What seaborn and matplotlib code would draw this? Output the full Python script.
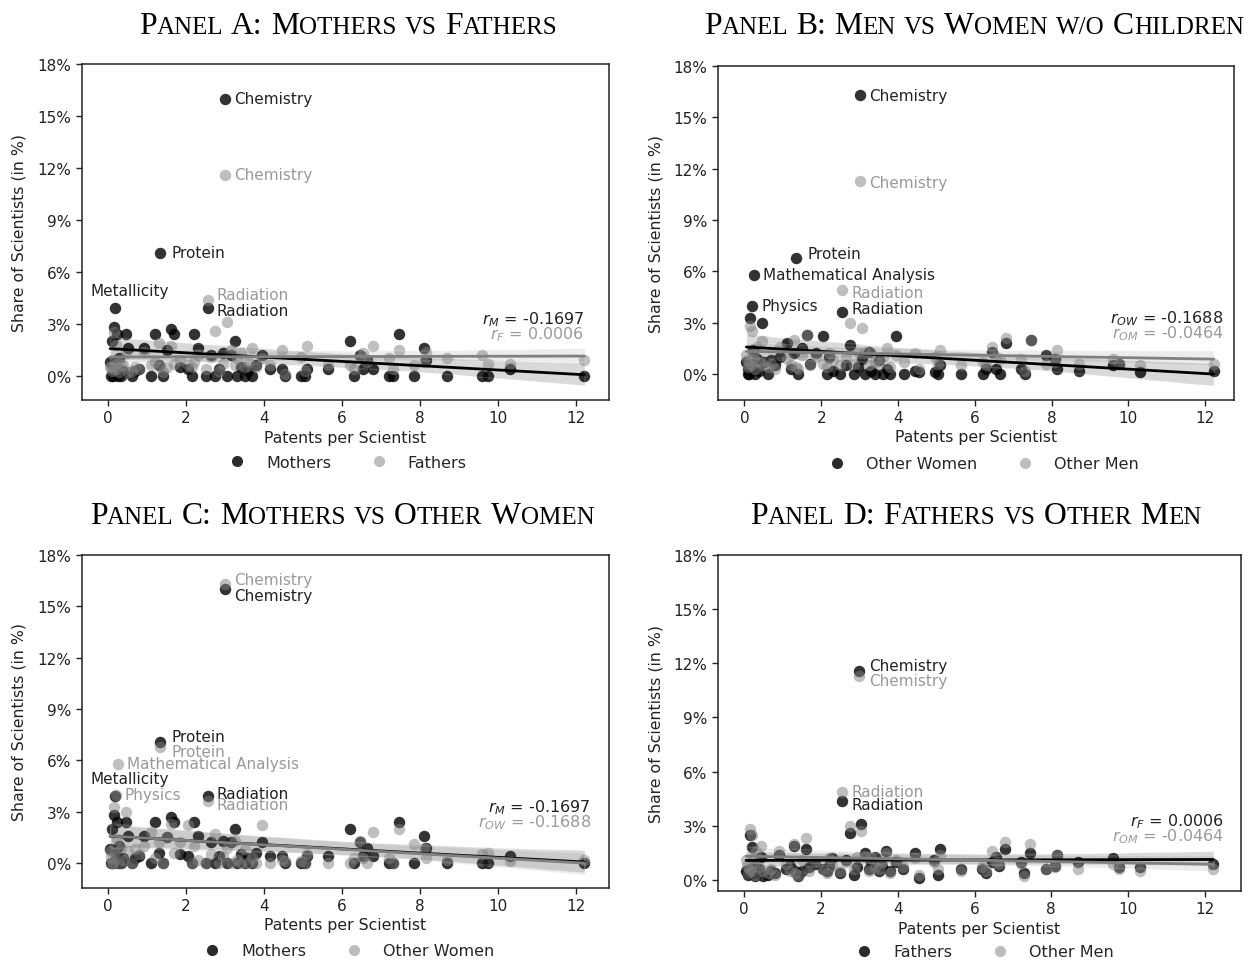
import matplotlib
matplotlib.use("Agg")
import matplotlib.pyplot as plt
from matplotlib.lines import Line2D
from matplotlib.offsetbox import TextArea, HPacker, AnchoredOffsetbox
from matplotlib.ticker import FuncFormatter
import seaborn as sns
import pandas as pd

# --- data: one row per research field ---
fields = ["", "", "", "", "", "Metallicity", "Physics", "", "Mathematical Analysis", "", "", "", "", "",
          "", "", "", "",
          "", "", "", "Protein", "", "", "", "", "",
          "", "", "", "", "", "Radiation", "", "", "", "",
          "Chemistry", "", "", "", "", "", "", "", "", "", "",
          "", "", "", "", "", "",
          "", "", "", "", "", "", "", "", "", "",
          "", "", "", "", "", "", "", ""]
patents = [0.05, 0.08, 0.10, 0.12, 0.15, 0.17, 0.20, 0.22, 0.25, 0.28, 0.32, 0.38, 0.45, 0.50,
           0.62, 0.70, 0.80, 0.92,
           1.10, 1.20, 1.30, 1.33, 1.40, 1.50, 1.62, 1.70, 1.85,
           2.05, 2.15, 2.20, 2.30, 2.50, 2.55, 2.65, 2.75, 2.85, 2.95,
           3.00, 3.05, 3.15, 3.25, 3.30, 3.40, 3.50, 3.60, 3.70, 3.80, 3.95,
           4.15, 4.45, 4.55, 4.95, 5.05, 5.10,
           5.65, 6.20, 6.30, 6.45, 6.55, 6.65, 6.80, 7.20, 7.30, 7.45,
           7.85, 8.10, 8.15, 8.70, 9.60, 9.75, 10.30, 12.22]
mothers = [0.8, 0.0, 2.0, 0.0, 2.8, 3.9, 0.5, 2.4, 0.0, 1.0, 0.0, 0.3, 2.4, 1.6,
           0.0, 0.3, 0.4, 1.6,
           0.0, 2.4, 0.6, 7.1, 0.0, 1.5, 2.7, 2.4, 0.5,
           0.4, 0.0, 2.4, 1.6, 0.0, 3.9, 1.2, 0.0, 0.4, 1.3,
           16.0, 0.0, 1.2, 2.0, 0.0, 0.5, 0.0, 0.3, 0.0, 0.6, 1.2,
           0.4, 0.4, 0.0, 0.0, 0.0, 0.4,
           0.4, 2.0, 0.0, 1.2, 0.4, 0.9, 0.4, 0.0, 0.0, 2.4,
           0.0, 1.6, 0.9, 0.0, 0.0, 0.0, 0.4, 0.0]
fathers = [0.5, 0.5, 0.3, 0.4, 2.5, 0.6, 1.8, 0.4, 0.8, 0.2, 0.6, 0.6, 1.3, 0.2,
           0.3, 0.5, 0.4, 1.4,
           0.6, 0.8, 1.9, 0.5, 0.2, 0.5, 1.7, 0.7, 0.9,
           0.6, 0.5, 0.8, 1.2, 0.4, 4.4, 1.1, 2.6, 0.3, 0.7,
           11.6, 3.1, 1.5, 0.6, 1.0, 1.3, 0.5, 0.8, 1.6, 0.5, 1.0,
           0.6, 1.5, 0.1, 1.1, 0.3, 1.7,
           0.6, 0.6, 0.4, 1.0, 1.3, 0.8, 1.7, 1.0, 0.4, 1.5,
           0.6, 0.8, 1.4, 1.0, 1.2, 0.7, 0.7, 0.9]
other_women = [0.7, 0.3, 0.0, 0.0, 3.3, 0.6, 4.0, 1.4, 5.8, 0.0, 0.9, 0.2, 3.0, 0.7,
               0.0, 0.8, 0.5, 1.0,
               1.8, 0.3, 1.2, 6.8, 0.0, 1.5, 2.3, 0.6, 1.2,
               2.2, 0.0, 1.0, 0.2, 0.0, 3.6, 0.5, 1.7, 0.0, 0.4,
               16.3, 0.9, 0.0, 1.3, 0.2, 0.0, 0.8, 0.0, 0.3, 0.0, 2.2,
               0.0, 0.2, 0.1, 0.1, 0.0, 0.5,
               0.0, 0.0, 0.3, 1.3, 0.3, 0.0, 1.8, 0.3, 0.0, 2.0,
               1.1, 0.9, 0.3, 0.2, 0.5, 0.6, 0.1, 0.2]
other_men = [1.1, 0.8, 0.4, 0.6, 2.8, 0.5, 2.5, 1.2, 0.9, 0.3, 1.6, 0.7, 1.9, 0.5,
             0.4, 0.6, 0.3, 1.6,
             0.9, 0.5, 2.0, 0.4, 0.3, 1.1, 2.3, 0.5, 1.0,
             0.6, 0.4, 1.2, 0.8, 0.5, 4.9, 1.0, 3.0, 0.6, 1.3,
             11.3, 2.7, 1.3, 0.5, 1.2, 0.7, 0.6, 1.0, 1.5, 0.4, 1.1,
             0.7, 1.2, 0.3, 1.0, 0.6, 1.4,
             0.5, 0.7, 0.5, 1.6, 1.0, 0.9, 2.1, 0.9, 0.2, 2.0,
             0.6, 0.7, 1.4, 0.6, 0.9, 0.6, 0.5, 0.6]

corr_text = {"Mothers": ("M", "-0.1697"), "Fathers": ("F", "0.0006"),
             "Other Women": ("OW", "-0.1688"), "Other Men": ("OM", "-0.0464")}

df = pd.DataFrame({"field": fields, "patents": patents, "Mothers": mothers,
                   "Fathers": fathers, "Other Women": other_women, "Other Men": other_men})

# --- style ---
sns.set_style("ticks")
plt.rcParams["font.family"] = ["DejaVu Sans"]

W, H = 1248, 962
DARK, LIGHT = "black", "grey"
DARK_TXT, LIGHT_TXT = "#222222", "#9a9a9a"

# panel layout in pixels: axes box (left, right, top, bottom), limits, legend/title centres
panels = [
    dict(title="Panel A: Mothers vs Fathers", groups=("Mothers", "Fathers"),
         box=(82, 609, 65, 401), xlim=(-0.67, 12.85), ylim=(-1.40, 18),
         title_xy=(348, 27), legend_xy=(344, 463), r_pos=(0.953, 0.241, 0.196),
         offsets={("Mothers", "Metallicity"): (11, 13, "center"),
                  ("Mothers", "Protein"): (8.6, 0, "left"),
                  ("Mothers", "Radiation"): (6.5, -1.5, "left"),
                  ("Fathers", "Radiation"): (6.5, 3.5, "left")}),
    dict(title="Panel B: Men vs Women w/o Children", groups=("Other Women", "Other Men"),
         box=(718, 1234, 67, 401), xlim=(-0.69, 12.75), ylim=(-1.52, 18),
         title_xy=(974, 27), legend_xy=(980, 465), r_pos=(0.98, 0.248, 0.203),
         offsets={("Other Women", "Protein"): (8.6, 3, "left"),
                  ("Other Men", "Chemistry"): (6.5, -1, "left"),
                  ("Other Men", "Radiation"): (6.5, -1.5, "left"),
                  ("Other Women", "Radiation"): (6.5, 3, "left")}),
    dict(title="Panel C: Mothers vs Other Women", groups=("Mothers", "Other Women"),
         box=(82, 609, 556, 889), xlim=(-0.67, 12.85), ylim=(-1.46, 18),
         title_xy=(342, 517), legend_xy=(345, 952), r_pos=(0.966, 0.243, 0.198),
         offsets={("Mothers", "Metallicity"): (11, 13, "center"),
                  ("Other Women", "Chemistry"): (6.5, 3, "left"),
                  ("Mothers", "Chemistry"): (6.5, -4.5, "left"),
                  ("Mothers", "Protein"): (8.6, 3.6, "left"),
                  ("Other Women", "Protein"): (8.6, -3.6, "left"),
                  ("Mothers", "Radiation"): (6.5, 2, "left"),
                  ("Other Women", "Radiation"): (6.5, -2, "left")}),
    dict(title="Panel D: Fathers vs Other Men", groups=("Fathers", "Other Men"),
         box=(718, 1241, 556, 892), xlim=(-0.68, 12.94), ylim=(-0.61, 18),
         title_xy=(976, 516), legend_xy=(981, 953), r_pos=(0.967, 0.209, 0.164),
         offsets={("Fathers", "Chemistry"): (7, 3.5, "left"),
                  ("Other Men", "Chemistry"): (7, -3, "left"),
                  ("Fathers", "Radiation"): (6.5, -3, "left")}),
]


def smallcaps(fig, text, xy, big=22.8, small=18):
    # build a small-caps title from runs of big / small capitals
    words = []
    for word in text.split(" "):
        runs, cur, cur_big = [], "", None
        for ch in word:
            is_big = ch.isupper() if ch.isalpha() else (cur_big if cur_big is not None else True)
            if cur_big is None or is_big == cur_big:
                cur += ch.upper()
            else:
                runs.append((cur, cur_big))
                cur = ch.upper()
            cur_big = is_big
        runs.append((cur, cur_big))
        boxes = [TextArea(t, textprops=dict(family="Liberation Serif", size=big if b else small,
                                            color="black")) for t, b in runs]
        words.append(HPacker(children=boxes, align="baseline", pad=0, sep=0))
    pack = HPacker(children=words, align="baseline", pad=0, sep=6)
    box = AnchoredOffsetbox(loc="center", child=pack, pad=0, borderpad=0, frameon=False,
                            bbox_to_anchor=(xy[0] / W, 1 - xy[1] / H),
                            bbox_transform=fig.transFigure)
    fig.add_artist(box)


fig = plt.figure(figsize=(W / 100, H / 100), dpi=100)

for p in panels:
    l, r, t, b = p["box"]
    ax = fig.add_axes([l / W, 1 - b / H, (r - l) / W, (b - t) / H])
    dark, light = p["groups"]

    sns.regplot(data=df, x="patents", y=dark, ax=ax, color=DARK, seed=0,
                scatter_kws=dict(s=68, alpha=0.8, linewidths=0),
                line_kws=dict(lw=2))
    sns.regplot(data=df, x="patents", y=light, ax=ax, color=LIGHT, seed=0,
                scatter_kws=dict(s=68, alpha=0.5, linewidths=0),
                line_kws=dict(lw=2))

    # label the fields with a large share
    for grp, col in ((dark, DARK_TXT), (light, LIGHT_TXT)):
        big = df[df[grp] > 3.4]
        for _, row in big.iterrows():
            dx, dy, ha = p["offsets"].get((grp, row["field"]), (6.5, 0, "left"))
            ax.annotate(row["field"], xy=(row["patents"], row[grp]), xytext=(dx, dy),
                        textcoords="offset points", ha=ha, va="center",
                        fontsize=11, color=col)

    # correlation coefficients
    rx, ry1, ry2 = p["r_pos"]
    for grp, yy, col in ((dark, ry1, DARK_TXT), (light, ry2, LIGHT_TXT)):
        sub, val = corr_text[grp]
        ax.text(rx, yy, rf"$r_{{{sub}}}$ = {val}", transform=ax.transAxes,
                ha="right", va="center", fontsize=11.5, color=col)

    ax.set_xlim(*p["xlim"])
    ax.set_ylim(*p["ylim"])
    ax.set_yticks([0, 3, 6, 9, 12, 15, 18])
    ax.set_xticks([0, 2, 4, 6, 8, 10, 12])
    ax.yaxis.set_major_formatter(FuncFormatter(lambda v, pos: f"{v:.0f}%"))
    ax.tick_params(labelsize=11, length=4, width=1, colors="#222222")
    for sp in ax.spines.values():
        sp.set_color("#222222")
        sp.set_linewidth(1.1)

    ax.set_xlabel("Patents per Scientist", fontsize=11.3, color="#222222")
    ax.set_ylabel("Share of Scientists (in %)", fontsize=11.3, color="#222222")
    ax.xaxis.set_label_coords(0.5, -0.088)
    ax.yaxis.set_label_coords(-0.105, 0.5)

    handles = [Line2D([], [], ls="", marker="o", markersize=8, color="#2b2b2b", mew=0),
               Line2D([], [], ls="", marker="o", markersize=8, color="#bdbdbd", mew=0)]
    fig.legend(handles, [dark, light], ncol=2, frameon=False, fontsize=11.5,
               loc="center", bbox_to_anchor=(p["legend_xy"][0] / W, 1 - p["legend_xy"][1] / H),
               handletextpad=0.8, columnspacing=2.0, borderpad=0, borderaxespad=0)

    smallcaps(fig, p["title"], p["title_xy"])

fig.savefig("out.png", dpi=100)
